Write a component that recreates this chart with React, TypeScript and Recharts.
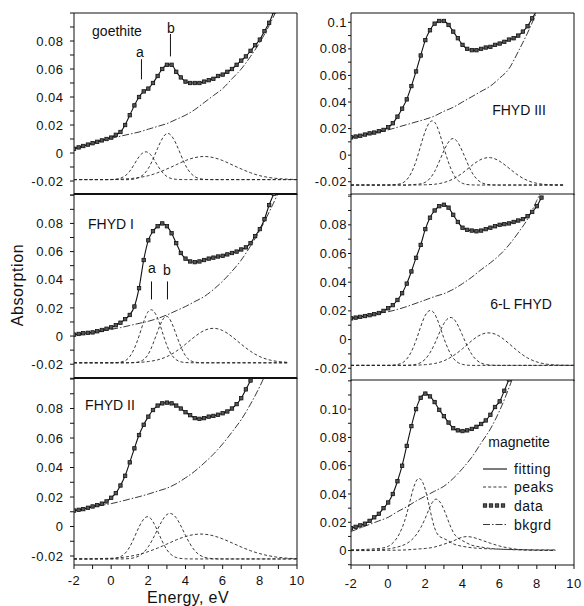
import React from 'react';
import { LineChart, Line, XAxis, YAxis, ReferenceLine } from 'recharts';

// energy grids (eV)
const fineE = [-2, -1.75, -1.5, -1.25, -1, -0.75, -0.5, -0.25, 0, 0.25, 0.5, 0.75, 1, 1.25, 1.5, 1.75, 2, 2.25, 2.5, 2.75, 3, 3.25, 3.5, 3.75, 4, 4.25, 4.5, 4.75, 5, 5.25, 5.5, 5.75, 6, 6.25, 6.5, 6.75, 7, 7.25, 7.5, 7.75, 8, 8.25, 8.5, 8.75, 9];
const coarseE = [-2, -1.5, -1, -0.5, 0, 0.5, 1, 1.5, 2, 2.5, 3, 3.5, 4, 4.5, 5, 5.5, 6, 6.5, 7, 7.5, 8, 8.5, 9, 9.5, 10];
const xTicks = [-2, -1, 0, 1, 2, 3, 4, 5, 6, 7, 8, 9, 10];
const yTicks = [-0.03, -0.02, -0.01, 0, 0.01, 0.02, 0.03, 0.04, 0.05, 0.06, 0.07, 0.08, 0.09, 0.1, 0.11, 0.12];

// goethite
const goethiteData = [0.003, 0.004, 0.005, 0.006, 0.007, 0.008, 0.009, 0.010, 0.011, 0.013, 0.015, 0.020, 0.027, 0.034, 0.040, 0.044, 0.046, 0.050, 0.055, 0.060, 0.063, 0.063, 0.058, 0.054, 0.051, 0.050, 0.050, 0.050, 0.051, 0.052, 0.053, 0.055, 0.056, 0.058, 0.060, 0.063, 0.066, 0.069, 0.073, 0.077, 0.081, 0.087, 0.093, 0.101, 0.110];
const goethiteBkgrd = [0.003, 0.005, 0.007, 0.009, 0.0105, 0.012, 0.0135, 0.015, 0.017, 0.019, 0.021, 0.024, 0.027, 0.031, 0.036, 0.041, 0.046, 0.053, 0.060, 0.069, 0.079, 0.091, 0.105];
const goethitePeak1 = [-0.019, -0.019, -0.019, -0.019, -0.019, -0.018, -0.013, -0.0027, 0.0003, -0.009, -0.0168, -0.0188, -0.019, -0.019, -0.019, -0.019, -0.019, -0.019, -0.019, -0.019, -0.019, -0.019, -0.019, -0.019, -0.019];
const goethitePeak2 = [-0.019, -0.019, -0.019, -0.019, -0.019, -0.019, -0.019, -0.0175, -0.011, 0.0033, 0.0139, 0.0064, -0.0088, -0.0169, -0.0188, -0.019, -0.019, -0.019, -0.019, -0.019, -0.019, -0.019, -0.019, -0.019, -0.019];
const goethitePeak3 = [-0.019, -0.019, -0.019, -0.019, -0.0189, -0.0187, -0.0183, -0.0175, -0.0162, -0.0141, -0.0114, -0.0084, -0.0054, -0.0033, -0.0025, -0.0033, -0.0054, -0.0084, -0.0114, -0.0141, -0.0162, -0.0175, -0.0183, -0.0187, -0.019];
const goethiteMarks = [{ label: 'a', e: 1.63, from: 0.0526, to: 0.067 }, { label: 'b', e: 3.19, from: 0.069, to: 0.085 }];

// FHYD III
const fhyd3Data = [0.0134, 0.014, 0.0146, 0.0155, 0.0164, 0.017, 0.018, 0.019, 0.021, 0.024, 0.029, 0.035, 0.042, 0.052, 0.063, 0.075, 0.0866, 0.094, 0.099, 0.101, 0.101, 0.098, 0.093, 0.088, 0.083, 0.080, 0.079, 0.079, 0.080, 0.081, 0.0815, 0.083, 0.084, 0.0853, 0.087, 0.088, 0.090, 0.093, 0.097, 0.103, 0.109, 0.116];
const fhyd3Bkgrd = [0.0134, 0.0145, 0.016, 0.0175, 0.019, 0.021, 0.023, 0.025, 0.027, 0.0295, 0.033, 0.036, 0.040, 0.044, 0.048, 0.052, 0.058, 0.065, 0.078, 0.092, 0.108, 0.125];
const fhyd3Peak1 = [-0.0225, -0.0225, -0.0225, -0.0225, -0.0225, -0.022, -0.0185, -0.0045, 0.0182, 0.0248, 0.0055, -0.014, -0.0212, -0.0224, -0.0225, -0.0225, -0.0225, -0.0225, -0.0225, -0.0225, -0.0225, -0.0225, -0.0225, -0.0225];
const fhyd3Peak2 = [-0.0225, -0.0225, -0.0225, -0.0225, -0.0225, -0.0225, -0.0225, -0.022, -0.0204, -0.0123, 0.0034, 0.0125, 0.0027, -0.0128, -0.0205, -0.0223, -0.0225, -0.0225, -0.0225, -0.0225, -0.0225, -0.0225, -0.0225, -0.0225];
const fhyd3Peak3 = [-0.0225, -0.0225, -0.0225, -0.0225, -0.0225, -0.0225, -0.0225, -0.0225, -0.0223, -0.0219, -0.0206, -0.0179, -0.0134, -0.0078, -0.0032, -0.0019, -0.0046, -0.0098, -0.0152, -0.0191, -0.0212, -0.0221, -0.0224, -0.0225];

// FHYD I
const fhyd1Data = [0.001, 0.0015, 0.002, 0.0023, 0.0026, 0.0034, 0.0043, 0.0052, 0.0062, 0.0077, 0.0095, 0.012, 0.015, 0.021, 0.034, 0.054, 0.068, 0.0745, 0.078, 0.080, 0.078, 0.073, 0.066, 0.059, 0.055, 0.053, 0.0525, 0.053, 0.054, 0.055, 0.0557, 0.0565, 0.057, 0.058, 0.059, 0.060, 0.0615, 0.063, 0.066, 0.071, 0.076, 0.083, 0.093, 0.101, 0.110];
const fhyd1Bkgrd = [0.001, 0.0017, 0.0025, 0.0035, 0.0048, 0.006, 0.0075, 0.009, 0.0105, 0.0125, 0.015, 0.018, 0.021, 0.0245, 0.028, 0.033, 0.039, 0.046, 0.054, 0.064, 0.075, 0.088, 0.102];
const fhyd1Peak1 = [-0.019, -0.019, -0.019, -0.019, -0.019, -0.0185, -0.0146, 0.0, 0.0175, 0.0126, -0.0067, -0.0168, -0.0188, -0.019, -0.019, -0.019, -0.019, -0.019, -0.019, -0.019, -0.019, -0.019, -0.019, -0.019];
const fhyd1Peak2 = [-0.019, -0.019, -0.019, -0.019, -0.019, -0.019, -0.019, -0.0183, -0.0128, 0.0033, 0.014, 0.001, -0.014, -0.0185, -0.019, -0.019, -0.019, -0.019, -0.019, -0.019, -0.019, -0.019, -0.019, -0.019];
const fhyd1Peak3 = [-0.019, -0.019, -0.019, -0.019, -0.019, -0.019, -0.0189, -0.0187, -0.0181, -0.0169, -0.0146, -0.0108, -0.0058, -0.0004, 0.0039, 0.0055, 0.0039, -0.0004, -0.0058, -0.0108, -0.0146, -0.0169, -0.0181, -0.0187];
const fhyd1Marks = [{ label: 'a', e: 2.17, from: 0.026, to: 0.0388 }, { label: 'b', e: 3.03, from: 0.026, to: 0.0388 }];

// 6-L FHYD
const sixLData = [0.0148, 0.0153, 0.0158, 0.0164, 0.017, 0.0177, 0.0185, 0.020, 0.0218, 0.024, 0.0276, 0.0323, 0.039, 0.0475, 0.057, 0.066, 0.077, 0.085, 0.090, 0.093, 0.094, 0.092, 0.087, 0.082, 0.078, 0.0765, 0.076, 0.0755, 0.076, 0.077, 0.078, 0.079, 0.080, 0.0805, 0.081, 0.082, 0.083, 0.084, 0.086, 0.089, 0.093, 0.099];
const sixLBkgrd = [0.0148, 0.016, 0.0172, 0.0183, 0.0194, 0.021, 0.023, 0.0253, 0.0276, 0.030, 0.032, 0.035, 0.039, 0.0435, 0.0487, 0.0535, 0.059, 0.066, 0.0745, 0.084, 0.097, 0.112];
const sixLPeak1 = [-0.018, -0.018, -0.018, -0.018, -0.018, -0.0174, -0.0136, -0.0006, 0.017, 0.0179, 0.0009, -0.0129, -0.0173, -0.018, -0.018, -0.018, -0.018, -0.018, -0.018, -0.018, -0.018, -0.018, -0.018, -0.018, -0.018];
const sixLPeak2 = [-0.018, -0.018, -0.018, -0.018, -0.018, -0.018, -0.0179, -0.0173, -0.0136, -0.003, 0.0112, 0.0147, 0.0029, -0.0103, -0.0164, -0.0178, -0.018, -0.018, -0.018, -0.018, -0.018, -0.018, -0.018, -0.018, -0.018];
const sixLPeak3 = [-0.018, -0.018, -0.018, -0.018, -0.018, -0.018, -0.018, -0.0179, -0.0175, -0.0167, -0.0148, -0.0113, -0.0064, -0.0008, 0.0035, 0.0046, 0.0022, -0.0028, -0.0083, -0.0128, -0.0156, -0.0171, -0.0177, -0.0179, -0.018];

// FHYD II
const fhyd2Data = [0.0108, 0.0113, 0.0118, 0.0127, 0.0136, 0.0145, 0.0155, 0.017, 0.0195, 0.0226, 0.0278, 0.0344, 0.0435, 0.053, 0.062, 0.069, 0.0745, 0.079, 0.082, 0.0835, 0.084, 0.0835, 0.082, 0.080, 0.0775, 0.0755, 0.0735, 0.073, 0.0735, 0.0745, 0.075, 0.0758, 0.0768, 0.078, 0.080, 0.083, 0.087, 0.093, 0.099, 0.106];
const fhyd2Bkgrd = [0.0108, 0.012, 0.0132, 0.0144, 0.0155, 0.017, 0.0186, 0.0202, 0.022, 0.024, 0.026, 0.029, 0.033, 0.0375, 0.043, 0.049, 0.056, 0.064, 0.0725, 0.083, 0.095, 0.109];
const fhyd2Peak1 = [-0.022, -0.022, -0.022, -0.022, -0.0219, -0.0205, -0.0138, -0.0003, 0.0066, -0.0031, -0.0158, -0.021, -0.0219, -0.022, -0.022, -0.022, -0.022, -0.022, -0.022, -0.022, -0.022, -0.022, -0.022, -0.022, -0.022];
const fhyd2Peak2 = [-0.022, -0.022, -0.022, -0.022, -0.022, -0.022, -0.0217, -0.0199, -0.0137, -0.0019, 0.0081, 0.0059, -0.006, -0.0164, -0.0208, -0.0218, -0.022, -0.022, -0.022, -0.022, -0.022, -0.022, -0.022, -0.022, -0.022];
const fhyd2Peak3 = [-0.022, -0.022, -0.0219, -0.0217, -0.0215, -0.0211, -0.0202, -0.0189, -0.017, -0.0146, -0.0119, -0.0091, -0.0068, -0.0054, -0.0052, -0.0063, -0.0084, -0.0111, -0.0139, -0.0164, -0.0184, -0.0199, -0.0209, -0.0215, -0.0218];

// magnetite
const magnetiteData = [0.0158, 0.0168, 0.0178, 0.019, 0.021, 0.0235, 0.026, 0.030, 0.034, 0.040, 0.049, 0.060, 0.074, 0.088, 0.100, 0.108, 0.111, 0.109, 0.105, 0.0995, 0.095, 0.0905, 0.0865, 0.085, 0.0845, 0.085, 0.086, 0.0875, 0.0895, 0.092, 0.096, 0.1015, 0.1055, 0.113, 0.121, 0.130];
const magnetiteBkgrd = [0.0135, 0.016, 0.0185, 0.021, 0.0235, 0.0275, 0.031, 0.035, 0.0385, 0.042, 0.0455, 0.051, 0.058, 0.066, 0.076, 0.086, 0.099, 0.115, 0.133];
const magnetitePeak1 = [0.0005, 0.0007, 0.001, 0.0015, 0.003, 0.0095, 0.026, 0.049, 0.043, 0.016, 0.0085, 0.0048, 0.003, 0.002, 0.0015, 0.0012, 0.001, 0.0008, 0.0007, 0.0006, 0.0005, 0.0005, 0.0005];
const magnetitePeak2 = [0.0002, 0.0002, 0.0003, 0.0006, 0.0012, 0.0025, 0.005, 0.011, 0.023, 0.036, 0.029, 0.013, 0.007, 0.0038, 0.0025, 0.0015, 0.001, 0.0007, 0.0005, 0.0004, 0.0003, 0.0003, 0.0003];
const magnetitePeak3 = [0, 0, 0, 0.0001, 0.0002, 0.0003, 0.0005, 0.001, 0.0015, 0.0025, 0.0045, 0.0068, 0.0095, 0.0095, 0.0075, 0.0052, 0.0032, 0.0018, 0.0008, 0.0004, 0.0002, 0.0001, 0];

const FONT = '"Liberation Sans", Arial, sans-serif';
const INK = '#111';
const Y_W = 62;
const R_M = 12;

const pts = (xs: number[], ys: number[]) => ys.map((v, i) => ({ e: xs[i], v }));

const SquareDot = (props: any) => {
  const { cx, cy, index } = props;
  if (cx == null || cy == null) return <g key={index} />;
  return <rect key={index} x={cx - 1.7} y={cy - 1.7} width={3.4} height={3.4} fill="#555" stroke={INK} strokeWidth={0.8} />;
};

type Mark = { label: string; e: number; from: number; to: number };
type Spec = {
  plotLeft: number; plotTop: number; plotW: number; plotH: number;
  yDomain: [number, number]; tenLabel: string;
  data: number[]; bk: number[]; peaks: number[][];
  bottom: boolean; topTicks: boolean; topWidth: number;
  yTickSize: number; yTickMargin: number; xTickMargin: number;
  marks?: Mark[];
};

const panels: Spec[] = [
  { plotLeft: 73.5, plotTop: 14, plotW: 223, plotH: 181, yDomain: [-0.03, 0.1], tenLabel: '', data: goethiteData, bk: goethiteBkgrd, peaks: [goethitePeak1, goethitePeak2, goethitePeak3], bottom: false, topTicks: false, topWidth: 1, yTickSize: 4, yTickMargin: 6.5, xTickMargin: 0, marks: goethiteMarks },
  { plotLeft: 73.5, plotTop: 195, plotW: 223, plotH: 184, yDomain: [-0.0305, 0.1009], tenLabel: '', data: fhyd1Data, bk: fhyd1Bkgrd, peaks: [fhyd1Peak1, fhyd1Peak2, fhyd1Peak3], bottom: false, topTicks: true, topWidth: 2, yTickSize: 4, yTickMargin: 6.5, xTickMargin: 0, marks: fhyd1Marks },
  { plotLeft: 73.5, plotTop: 379, plotW: 223, plotH: 186, yDomain: [-0.0261, 0.1007], tenLabel: '', data: fhyd2Data, bk: fhyd2Bkgrd, peaks: [fhyd2Peak1, fhyd2Peak2, fhyd2Peak3], bottom: true, topTicks: true, topWidth: 2, yTickSize: 4, yTickMargin: 6.5, xTickMargin: 6.4 },
  { plotLeft: 350.5, plotTop: 14, plotW: 223, plotH: 181, yDomain: [-0.03, 0.107], tenLabel: '0.1', data: fhyd3Data, bk: fhyd3Bkgrd, peaks: [fhyd3Peak1, fhyd3Peak2, fhyd3Peak3], bottom: false, topTicks: false, topWidth: 1, yTickSize: 3, yTickMargin: 1, xTickMargin: 0 },
  { plotLeft: 350.5, plotTop: 195, plotW: 223, plotH: 186, yDomain: [-0.0289, 0.1015], tenLabel: '', data: sixLData, bk: sixLBkgrd, peaks: [sixLPeak1, sixLPeak2, sixLPeak3], bottom: false, topTicks: true, topWidth: 1, yTickSize: 3, yTickMargin: 1, xTickMargin: 0 },
  { plotLeft: 350.5, plotTop: 381, plotW: 223, plotH: 184, yDomain: [-0.0102, 0.1206], tenLabel: '0.10', data: magnetiteData, bk: magnetiteBkgrd, peaks: [magnetitePeak1, magnetitePeak2, magnetitePeak3], bottom: true, topTicks: true, topWidth: 1, yTickSize: 3, yTickMargin: 1, xTickMargin: 9.4 },
];

const tickFont = { fontSize: 13, fill: INK, fontFamily: FONT, letterSpacing: 0.5 };

function Panel({ p }: { p: Spec }) {
  const W = Y_W + p.plotW + R_M;
  const H = 4 + p.plotH + (p.bottom ? 30 : 0);
  const ticksY = yTicks.filter((t) => t >= p.yDomain[0] - 1e-9 && t <= p.yDomain[1] + 1e-9);
  const yFmt = (v: number) => {
    const k = Math.round(v * 100);
    if (k % 2 !== 0) return '';
    if (k === 0) return '0';
    if (k === 10) return p.tenLabel;
    if (k > 10) return '';
    return v.toFixed(2);
  };
  return (
    <div style={{ position: 'absolute', left: p.plotLeft - Y_W, top: p.plotTop - 4 }}>
      <LineChart width={W} height={H} margin={{ top: 3, right: R_M, bottom: 0, left: 0 }}>
        <XAxis
          xAxisId="top" orientation="top" type="number" dataKey="e" domain={[-2, 10]} allowDataOverflow
          ticks={xTicks} interval={0} height={1} mirror tick={false}
          tickSize={p.topTicks ? 3.5 : 0} tickLine={p.topTicks ? { stroke: INK } : false}
          axisLine={{ stroke: INK, strokeWidth: p.topWidth }}
        />
        {p.bottom && (
          <XAxis
            xAxisId="bottom" orientation="bottom" type="number" dataKey="e" domain={[-2, 10]} allowDataOverflow
            ticks={xTicks} interval={0} height={30} tickSize={4} tickMargin={p.xTickMargin}
            tickFormatter={(v: number) => (v % 2 === 0 ? String(v) : '')}
            tick={tickFont} axisLine={{ stroke: INK }} tickLine={{ stroke: INK }}
          />
        )}
        <YAxis
          type="number" domain={p.yDomain} allowDataOverflow ticks={ticksY} interval={0} width={Y_W}
          tickSize={p.yTickSize} tickMargin={p.yTickMargin} tickFormatter={yFmt}
          tick={tickFont} axisLine={{ stroke: INK }} tickLine={{ stroke: INK }}
        />
        <ReferenceLine xAxisId="top" x={10} stroke={INK} strokeWidth={1} />
        {(p.marks || []).map((m) => (
          <ReferenceLine
            key={m.label} xAxisId="top"
            segment={[{ x: m.e, y: m.from }, { x: m.e, y: m.to }]}
            stroke={INK} strokeWidth={1}
          />
        ))}
        {p.peaks.map((pk, i) => (
          <Line
            key={'pk' + i} xAxisId="top" data={pts(coarseE, pk)} dataKey="v" type="natural"
            stroke="#222" strokeWidth={0.9} strokeDasharray="3 2.2" dot={false} isAnimationActive={false}
          />
        ))}
        <Line
          xAxisId="top" data={pts(coarseE, p.bk)} dataKey="v" type="monotone"
          stroke="#222" strokeWidth={0.9} strokeDasharray="7 2 1.5 2" dot={false} isAnimationActive={false}
        />
        <Line
          xAxisId="top" data={pts(fineE, p.data)} dataKey="v" type="monotone"
          stroke={INK} strokeWidth={1.1} dot={SquareDot} isAnimationActive={false}
        />
      </LineChart>
    </div>
  );
}

const Txt = ({ x, y, size = 14, spacing = 0, rotate = 0, children }: any) => (
  <div
    style={{
      position: 'absolute', left: x, top: y, fontFamily: FONT, fontSize: size, lineHeight: 1,
      letterSpacing: spacing, whiteSpace: 'nowrap', color: INK,
      transform: `translate(-50%, -50%) rotate(${rotate}deg)`,
    }}
  >
    {children}
  </div>
);

const LegendText = ({ y, children }: any) => (
  <div style={{ position: 'absolute', left: 514, top: y, transform: 'translateY(-50%)', fontFamily: FONT, fontSize: 14, lineHeight: 1, letterSpacing: 0.5, color: INK, whiteSpace: 'nowrap' }}>
    {children}
  </div>
);

export default function App() {
  return (
    <div style={{ position: 'absolute', left: 0, top: 0, width: 584, height: 606, background: '#fff', overflow: 'hidden' }}>
      {panels.map((p, i) => (
        <Panel key={i} p={p} />
      ))}

      <Txt x={117} y={31}>goethite</Txt>
      <Txt x={140} y={52}>a</Txt>
      <Txt x={171} y={28}>b</Txt>
      <Txt x={111} y={224}>FHYD I</Txt>
      <Txt x={152} y={268}>a</Txt>
      <Txt x={167} y={270}>b</Txt>
      <Txt x={110} y={405}>FHYD II</Txt>
      <Txt x={519} y={110}>FHYD III</Txt>
      <Txt x={521} y={304}>6-L FHYD</Txt>
      <Txt x={519} y={442}>magnetite</Txt>

      <Txt x={18} y={285} size={16} spacing={0.6} rotate={-90}>Absorption</Txt>
      <Txt x={188} y={598} size={16} spacing={0.4}>Energy, eV</Txt>

      <svg width={34} height={72} style={{ position: 'absolute', left: 480, top: 460 }}>
        <line x1={3} x2={27} y1={9} y2={9} stroke={INK} strokeWidth={1.1} />
        <line x1={3} x2={27} y1={27} y2={27} stroke="#222" strokeWidth={0.9} strokeDasharray="3 2.2" />
        {[5, 11, 17, 23].map((x) => (
          <rect key={x} x={x - 1.7} y={45.5 - 1.7} width={3.4} height={3.4} fill="#555" stroke={INK} strokeWidth={0.8} />
        ))}
        <line x1={3} x2={27} y1={64.5} y2={64.5} stroke="#222" strokeWidth={0.9} strokeDasharray="7 2 1.5 2" />
      </svg>
      <LegendText y={469}>fitting</LegendText>
      <LegendText y={487}>peaks</LegendText>
      <LegendText y={505.5}>data</LegendText>
      <LegendText y={524.5}>bkgrd</LegendText>
    </div>
  );
}
